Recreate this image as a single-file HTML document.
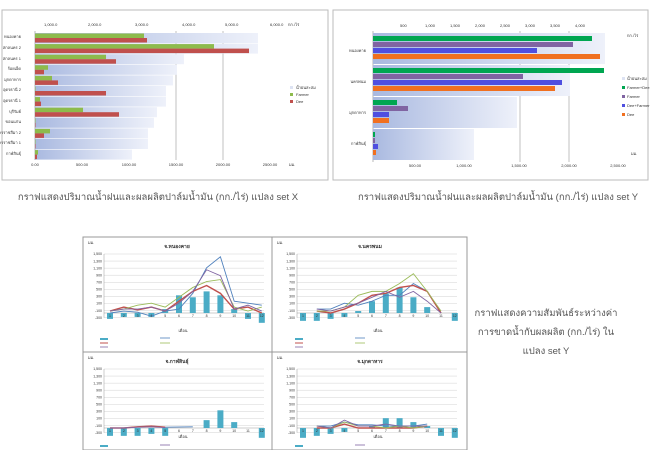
<!DOCTYPE html>
<html><head><meta charset="utf-8">
<style>
html,body{margin:0;padding:0;background:#fff;width:650px;height:450px;overflow:hidden}
svg{display:block;font-family:"Liberation Sans","Noto Sans CJK SC",sans-serif}
.cap{font-family:"Liberation Sans","Noto Sans CJK SC",sans-serif;font-size:9.5px;fill:#555}
</style></head><body>
<svg id="s" width="650" height="450" viewBox="0 0 650 450">
<defs>
<linearGradient id="rg" x1="0" x2="1" y1="0" y2="0"><stop offset="0" stop-color="#a9b9e0"/><stop offset="1" stop-color="#eef1fa"/></linearGradient>
</defs>
<rect x="2" y="10" width="326" height="170" fill="#fff" stroke="#bbb"/>
<rect x="333" y="10" width="315" height="170" fill="#fff" stroke="#bbb"/>
<g id="g"></g>
<text class="cap" x="158" y="200" text-anchor="middle">กราฟแสดงปริมาณน้ำฝนและผลผลิตปาล์มน้ำมัน (กก./ไร่) แปลง set X</text>
<text class="cap" x="498" y="200" text-anchor="middle">กราฟแสดงปริมาณน้ำฝนและผลผลิตปาล์มน้ำมัน (กก./ไร่) แปลง set Y</text>
<text class="cap" x="546" y="316" text-anchor="middle">กราฟแสดงความสัมพันธ์ระหว่างค่า</text>
<text class="cap" x="546" y="335" text-anchor="middle">การขาดน้ำกับผลผลิต (กก./ไร่) ใน</text>
<text class="cap" x="546" y="354" text-anchor="middle">แปลง set Y</text>
<g font-size="4" fill="#333">
<text x="21" y="38" text-anchor="end">หนองคาย</text>
<text x="21" y="49" text-anchor="end">สกลนคร 2</text>
<text x="21" y="60" text-anchor="end">สกลนคร 1</text>
<text x="21" y="70" text-anchor="end">ร้อยเอ็ด</text>
<text x="21" y="81" text-anchor="end">มุกดาหาร</text>
<text x="21" y="91" text-anchor="end">อุดรธานี 2</text>
<text x="21" y="102" text-anchor="end">อุดรธานี 1</text>
<text x="21" y="113" text-anchor="end">บุรีรัมย์</text>
<text x="21" y="123" text-anchor="end">ขอนแก่น</text>
<text x="21" y="134" text-anchor="end">นครราชสีมา 2</text>
<text x="21" y="144" text-anchor="end">นครราชสีมา 1</text>
<text x="21" y="155" text-anchor="end">กาฬสินธุ์</text>
<text x="44" y="26">1,000.0</text><text x="88" y="26">2,000.0</text><text x="135" y="26">3,000.0</text><text x="182" y="26">4,000.0</text><text x="225" y="26">5,000.0</text><text x="270" y="26">6,000.0</text><text x="288" y="26">กก./ไร่</text>
<text x="35" y="166" text-anchor="middle">0.00</text><text x="82" y="166" text-anchor="middle">500.00</text><text x="129" y="166" text-anchor="middle">1000.00</text><text x="176" y="166" text-anchor="middle">1500.00</text><text x="223" y="166" text-anchor="middle">2000.00</text><text x="270" y="166" text-anchor="middle">2500.00</text><text x="289" y="166">มม.</text>
<text x="296" y="89">น้ำฝนสะสม</text><text x="296" y="96">Farmer</text><text x="296" y="103">Dee</text>
<text x="366" y="52" text-anchor="end">หนองคาย</text><text x="366" y="83" text-anchor="end">นครพนม</text><text x="366" y="114" text-anchor="end">มุกดาหาร</text><text x="366" y="145" text-anchor="end">กาฬสินธุ์</text>
<text x="400" y="27">500</text><text x="425" y="27">1,000</text><text x="450" y="27">1,500</text><text x="475" y="27">2,000</text><text x="500" y="27">2,500</text><text x="525" y="27">3,000</text><text x="550" y="27">3,500</text><text x="575" y="27">4,000</text>
<text x="627" y="37">กก./ไร่</text><text x="631" y="155">มม.</text>
<text x="415" y="167" text-anchor="middle">500.00</text><text x="464" y="167" text-anchor="middle">1,000.00</text><text x="519" y="167" text-anchor="middle">1,500.00</text><text x="569" y="167" text-anchor="middle">2,000.00</text><text x="618" y="167" text-anchor="middle">2,500.00</text>
<text x="627" y="80">น้ำฝนสะสม</text><text x="627" y="89">Farmer+Dee</text><text x="627" y="98">Farmer</text><text x="627" y="107">Dee+Farmer</text><text x="627" y="116">Dee</text>
<text x="177" y="248" text-anchor="middle" font-size="5" font-weight="bold">จ.หนองคาย</text>
<text x="370" y="248" text-anchor="middle" font-size="5" font-weight="bold">จ.นครพนม</text>
<text x="177" y="363" text-anchor="middle" font-size="5" font-weight="bold">จ.กาฬสินธุ์</text>
<text x="370" y="363" text-anchor="middle" font-size="5" font-weight="bold">จ.มุกดาหาร</text>
<text x="183" y="332" text-anchor="middle">เดือน</text><text x="378" y="332" text-anchor="middle">เดือน</text>
<text x="183" y="438" text-anchor="middle">เดือน</text><text x="378" y="438" text-anchor="middle">เดือน</text>
<text x="88" y="244">มม.</text><text x="277" y="244">มม.</text><text x="88" y="359">มม.</text><text x="277" y="359">มม.</text>
</g>
<g id="t" font-size="3.5" fill="#333"></g>
</svg>
<script>
var g=document.getElementById('g'),tg=document.getElementById('t'),NS='http://www.w3.org/2000/svg';
function R(x,y,w,h,f,st){var r=document.createElementNS(NS,'rect');r.setAttribute('x',x);r.setAttribute('y',y);r.setAttribute('width',Math.max(w,0.5));r.setAttribute('height',h);r.setAttribute('fill',f);if(st)r.setAttribute('stroke',st);g.appendChild(r);}
function L(pts,c,w){var p=document.createElementNS(NS,'polyline');p.setAttribute('points',pts.map(function(a){return a.join(',')}).join(' '));p.setAttribute('fill','none');p.setAttribute('stroke',c);p.setAttribute('stroke-width',w||1);g.appendChild(p);}
function T(x,y,s,a){var t=document.createElementNS(NS,'text');t.setAttribute('x',x);t.setAttribute('y',y);if(a)t.setAttribute('text-anchor',a);t.textContent=s;tg.appendChild(t);}
L([[35,31],[35,160]],'#888',0.6);
[176,223].forEach(function(x){L([[x,31],[x,160]],'#999',0.6)});
var rain=[258,258,184,177,173,166,166,157,154,148,148,132],gr=[144,214,106,48,52,35,40,83,35,50,35,38],rd=[147,249,116,44,58,106,41,119,35,44,35,37];
for(var i=0;i<12;i++){var y=33+i*10.6;R(35,y,rain[i]-35,10,'url(#rg)');R(35,y+0.5,gr[i]-35,4.5,'#8dbb4c');R(35,y+5,rd[i]-35,4.5,'#c0504d');}
R(290,86,3,3,'#dde3f3');R(290,93,3,3,'#8dbb4c');R(290,100,3,3,'#c0504d');
L([[373,31],[373,162]],'#888',0.6);
[520,569].forEach(function(x){L([[x,31],[x,162]],'#999',0.6)});
var r2=[605,570,517,474],bars=[[592,573,537,600],[604,523,562,555],[397,408,389,389],[375,375,378,376]],cols=['#00a651','#8064a2','#4f4fe0','#f07020'];
for(i=0;i<4;i++){var y=33+i*32;R(373,y,r2[i]-373,31,'url(#rg)');for(var k=0;k<4;k++)R(373,y+3+k*6,bars[i][k]-373,5,cols[k]);}
R(622,77,3,3,'#dde3f3');for(k=0;k<4;k++)R(622,86+k*9,3,3,cols[k]);
var panels=[[83,237,189,115],[272,237,195,115],[83,352,189,98],[272,352,195,98]];
panels.forEach(function(p){R(p[0],p[1],p[2],p[3],'#fff','#999');});
function panel(x0,y0,bars,lines){
 var top=y0,zero=y0+59,step=7.07,x1=x0+6,sp=13.8;
 var labs=['1,500','1,300','1,100','900','700','500','300','100','-100','-300'];
 for(var v=0;v<10;v++){var yy=top+v*step;L([[x0,yy],[x0+160,yy]],'#c8c8c8',0.4);T(x0-2,yy+1.2,labs[v],'end');}
 L([[x0,top],[x0,top+9*step]],'#999',0.5);
 L([[x0,zero],[x0+160,zero]],'#999',0.6);
 for(var m=0;m<12;m++){T(x1+m*sp,zero+4,String(m+1),'middle');var b=bars[m];if(b==null)continue;var yy=zero-b*0.0393;R(x1+m*sp-3,Math.min(yy,zero),6,Math.abs(zero-yy),'#4bacc6');}
 lines.forEach(function(l){var pts=[];l[1].forEach(function(v,m){if(v!=null)pts.push([x1+m*sp,zero-v*0.0393]);});L(pts,l[0],l[2]||0.9);});
}
panel(104,254,[-150,-100,-100,-100,100,450,400,550,450,100,-150,-250],
 [['#4f81bd',[0,50,20,-80,50,100,500,1150,1430,300,250,200]],['#c0504d',[50,150,80,150,50,300,550,700,500,100,150,0],1.4],['#9bbb59',[50,100,200,250,150,400,650,800,850,150,50,150]],['#8064a2',[50,100,100,150,50,250,550,1100,950,100,200,50]]]);
panel(297,254,[-200,-200,-150,-100,50,300,500,650,400,150,0,-200],
 [['#4f81bd',[null,100,100,250,200,300,450,450,750,550,0]],['#c0504d',[null,50,0,100,250,450,500,650,700,550,0],1.4],['#9bbb59',[null,50,50,150,450,550,550,750,1000,550,50]],['#8064a2',[null,100,50,150,250,400,550,400,550,300,0]]]);
panel(104,369,[-200,-200,-200,-150,-200,null,null,200,450,150,null,-250],
 [['#4f81bd',[0,0,30,50,20,null,30]],['#c0504d',[0,0,30,50,20],1.4],['#8064a2',[0,0,20,30,10]]]);
panel(297,369,[-250,-200,-150,-100,0,50,250,250,150,50,-200,-250],
 [['#4f81bd',[null,50,50,150,80,80,50,50,50,100]],['#c0504d',[null,0,0,100,0,0,0,0,0,50],1.4],['#9bbb59',[null,50,0,150,50,50,0,50,0,50]],['#8064a2',[null,50,0,200,50,50,100,50,50,50]]]);
[[100,338],[295,338]].forEach(function(q){R(q[0],q[1],8,2,'#4bacc6');L([[q[0],q[1]+5],[q[0]+8,q[1]+5]],'#c0504d',1);L([[q[0],q[1]+9],[q[0]+8,q[1]+9]],'#8064a2',0.8);L([[q[0]+60,q[1]],[q[0]+70,q[1]]],'#4f81bd',0.8);L([[q[0]+60,q[1]+5],[q[0]+70,q[1]+5]],'#9bbb59',0.8);});
[[100,445],[295,445]].forEach(function(q){R(q[0],q[1],8,2,'#4bacc6');L([[q[0]+60,q[1]],[q[0]+70,q[1]]],'#8064a2',0.8);});
</script>
</body></html>
